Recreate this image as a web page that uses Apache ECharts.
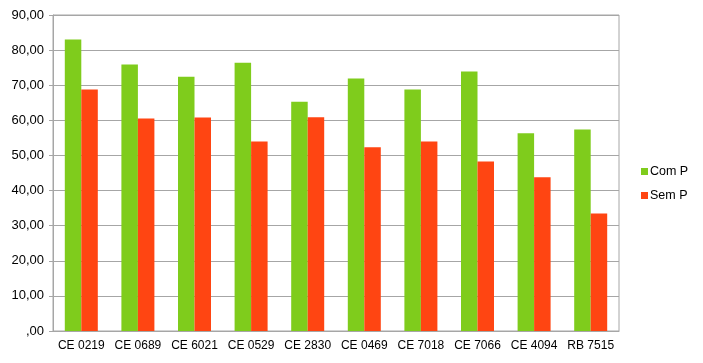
<!DOCTYPE html>
<html>
<head>
<meta charset="utf-8">
<script src="https://cdn.jsdelivr.net/npm/echarts@6/dist/echarts.min.js"></script>
<style>html,body{margin:0;padding:0;background:#fff;}#c{width:703px;height:363px;}</style>
</head>
<body>
<div id="c"></div>
<script>
const categories = ['CE 0219','CE 0689','CE 6021','CE 0529','CE 2830','CE 0469','CE 7018','CE 7066','CE 4094','RB 7515'];
const comP = [83.0, 75.9, 72.4, 76.4, 65.3, 71.9, 68.8, 73.9, 56.3, 57.4];
const semP = [68.8, 60.5, 60.8, 54.0, 60.9, 52.3, 54.0, 48.3, 43.8, 33.5];
const seriesNames = ['Com P', 'Sem P'];

const chart = echarts.init(document.getElementById('c'), null, {renderer: 'canvas'});
const font = 'Liberation Sans, Arial, sans-serif';
chart.setOption({
  animation: false,
  backgroundColor: '#ffffff',
  grid: {left: 53, right: 84, top: 15, bottom: 32, show: true, borderColor: '#a6a6a6', borderWidth: 1},
  legend: {
    orient: 'vertical', left: 636, top: 160, itemWidth: 7, itemHeight: 7, itemGap: 11,
    icon: 'rect',
    textStyle: {fontFamily: font, fontSize: 12.5, color: '#000', padding: [0,0,0,-3]},
    data: seriesNames
  },
  xAxis: {
    type: 'category', data: categories,
    axisLine: {show: true, lineStyle: {color: '#a6a6a6'}},
    axisTick: {show: false},
    axisLabel: {fontFamily: font, fontSize: 12, color: '#000', margin: 9, interval: 0}
  },
  yAxis: {
    type: 'value', min: 0, max: 90, interval: 10,
    axisLine: {show: true, lineStyle: {color: '#a6a6a6'}},
    axisTick: {show: true, length: 4, inside: false, lineStyle: {color: '#a6a6a6'}},
    splitLine: {show: true, lineStyle: {color: '#a6a6a6', width: 1}},
    axisLabel: {fontFamily: font, fontSize: 13, color: '#000', margin: 9,
      formatter: v => v === 0 ? ',00' : v.toFixed(2).replace('.', ',')}
  },
  series: [
    {name: seriesNames[0], type: 'bar', data: comP, itemStyle: {color: '#7fcc1c'}, barWidth: 16.5, barGap: '0%'},
    {name: seriesNames[1], type: 'bar', data: semP, itemStyle: {color: '#ff4512'}, barWidth: 16.5, barGap: '0%'}
  ]
});
</script>
</body>
</html>
